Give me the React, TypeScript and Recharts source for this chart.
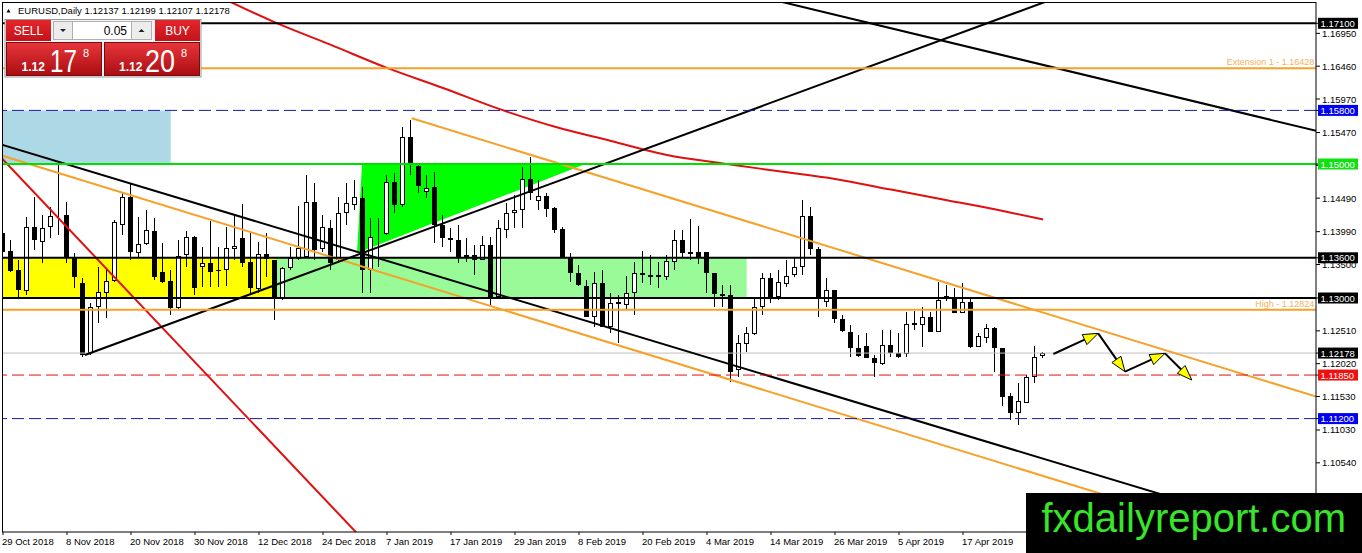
import React from 'react';
import { ComposedChart, Bar, Line, XAxis, YAxis, ReferenceLine, ReferenceArea, ReferenceDot } from 'recharts';

// daily EURUSD bars, 29 Oct 2018 .. 1 May 2019
const opens = [
  1.1397, 1.1370, 1.1342, 1.1310, 1.1406, 1.1384, 1.1406, 1.1424, 1.1424, 1.1361,
  1.1322, 1.1218, 1.1287, 1.1307, 1.1325, 1.1409, 1.1451, 1.1367, 1.1381, 1.1400,
  1.1339, 1.1325, 1.1285, 1.1364, 1.1391, 1.1346, 1.1352, 1.1342, 1.1342, 1.1373,
  1.1390, 1.1354, 1.1313, 1.1366, 1.1357, 1.1300, 1.1345, 1.1358, 1.1361, 1.1443,
  1.1373, 1.1405, 1.1357, 1.1427, 1.1439, 1.1449, 1.1342, 1.1391, 1.1396, 1.1473,
  1.1439, 1.1540, 1.1497, 1.1458, 1.1466, 1.1409, 1.1390, 1.1387, 1.1361, 1.1364,
  1.1357, 1.1379, 1.1301, 1.1402, 1.1427, 1.1431, 1.1478, 1.1445, 1.1452, 1.1434,
  1.1403, 1.1361, 1.1337, 1.1318, 1.1272, 1.1322, 1.1257, 1.1294, 1.1290, 1.1307,
  1.1337, 1.1334, 1.1334, 1.1331, 1.1354, 1.1387, 1.1369, 1.1369, 1.1369, 1.1337,
  1.1306, 1.1304, 1.1193, 1.1231, 1.1246, 1.1287, 1.1330, 1.1301, 1.1321, 1.1334,
  1.1346, 1.1422, 1.1373, 1.1294, 1.1312, 1.1269, 1.1249, 1.1225, 1.1228, 1.1210,
  1.1201, 1.1230, 1.1218, 1.1216, 1.1260, 1.1260, 1.1272, 1.1249, 1.1303, 1.1301,
  1.1278, 1.1294, 1.1227, 1.1240, 1.1255, 1.1225, 1.1154, 1.1128, 1.1143, 1.1182,
  1.12137,
];
const highs = [
  1.1409, 1.1387, 1.1357, 1.1421, 1.1451, 1.1424, 1.1436, 1.1499, 1.1443, 1.1367,
  1.1330, 1.1293, 1.1346, 1.1345, 1.1416, 1.1458, 1.1472, 1.1421, 1.1431, 1.1419,
  1.1382, 1.1342, 1.1387, 1.1400, 1.1393, 1.1376, 1.1415, 1.1376, 1.1406, 1.1422,
  1.1440, 1.1397, 1.1384, 1.1397, 1.1357, 1.1346, 1.1376, 1.1437, 1.1484, 1.1472,
  1.1424, 1.1416, 1.1451, 1.1472, 1.1476, 1.1466, 1.1419, 1.1419, 1.1484, 1.1487,
  1.1555, 1.1566, 1.1499, 1.1484, 1.1488, 1.1424, 1.1405, 1.1409, 1.1390, 1.1379,
  1.1393, 1.1391, 1.1416, 1.1442, 1.1454, 1.1496, 1.1511, 1.1476, 1.1457, 1.1436,
  1.1406, 1.1367, 1.1349, 1.1327, 1.1339, 1.1342, 1.1307, 1.1304, 1.1333, 1.1354,
  1.1370, 1.1364, 1.1354, 1.1364, 1.1402, 1.1402, 1.1418, 1.1407, 1.1369, 1.1337,
  1.1319, 1.1319, 1.1245, 1.1257, 1.1301, 1.1337, 1.1337, 1.1342, 1.1357, 1.1360,
  1.1446, 1.1436, 1.1376, 1.1330, 1.1312, 1.1275, 1.1260, 1.1245, 1.1248, 1.1215,
  1.1252, 1.1252, 1.1248, 1.1279, 1.1281, 1.1287, 1.1279, 1.1324, 1.1319, 1.1315,
  1.1322, 1.1301, 1.1248, 1.1261, 1.1257, 1.1225, 1.1158, 1.1173, 1.1185, 1.1228,
  1.12199,
];
const lows = [
  1.1360, 1.1339, 1.1301, 1.1304, 1.1372, 1.1352, 1.1390, 1.1394, 1.1352, 1.1315,
  1.1212, 1.1215, 1.1263, 1.1270, 1.1324, 1.1394, 1.1357, 1.1361, 1.1379, 1.1327,
  1.1322, 1.1275, 1.1282, 1.1346, 1.1304, 1.1316, 1.1316, 1.1316, 1.1318, 1.1357,
  1.1346, 1.1307, 1.1307, 1.1331, 1.1267, 1.1297, 1.1342, 1.1357, 1.1360, 1.1357,
  1.1369, 1.1342, 1.1352, 1.1409, 1.1431, 1.1307, 1.1307, 1.1346, 1.1394, 1.1427,
  1.1436, 1.1484, 1.1457, 1.1449, 1.1382, 1.1376, 1.1369, 1.1352, 1.1354, 1.1334,
  1.1357, 1.1290, 1.1300, 1.1390, 1.1405, 1.1405, 1.1446, 1.1431, 1.1421, 1.1397,
  1.1360, 1.1324, 1.1318, 1.1272, 1.1257, 1.1257, 1.1248, 1.1233, 1.1282, 1.1275,
  1.1322, 1.1319, 1.1315, 1.1327, 1.1342, 1.1360, 1.1357, 1.1351, 1.1307, 1.1287,
  1.1287, 1.1175, 1.1182, 1.1219, 1.1245, 1.1275, 1.1293, 1.1297, 1.1316, 1.1331,
  1.1334, 1.1364, 1.1272, 1.1287, 1.1263, 1.1249, 1.1212, 1.1212, 1.1210, 1.1182,
  1.1200, 1.1212, 1.1210, 1.1212, 1.1252, 1.1227, 1.1249, 1.1249, 1.1296, 1.1278,
  1.1278, 1.1225, 1.1227, 1.1233, 1.1190, 1.1139, 1.1118, 1.1110, 1.1143, 1.1173,
  1.12107,
];
const closes = [
  1.1369, 1.1340, 1.1312, 1.1406, 1.1387, 1.1405, 1.1422, 1.1425, 1.1361, 1.1331,
  1.1215, 1.1287, 1.1309, 1.1325, 1.1413, 1.1451, 1.1369, 1.1381, 1.1402, 1.1331,
  1.1324, 1.1285, 1.1363, 1.1391, 1.1315, 1.1352, 1.1339, 1.1340, 1.1375, 1.1378,
  1.1352, 1.1315, 1.1366, 1.1358, 1.1301, 1.1345, 1.1360, 1.1375, 1.1443, 1.1372,
  1.1406, 1.1352, 1.1427, 1.1442, 1.1451, 1.1342, 1.1391, 1.1393, 1.1473, 1.1439,
  1.1540, 1.1502, 1.1467, 1.1464, 1.1409, 1.1390, 1.1387, 1.1361, 1.1364, 1.1357,
  1.1379, 1.1301, 1.1405, 1.1427, 1.1431, 1.1478, 1.1457, 1.1452, 1.1433, 1.1402,
  1.1360, 1.1337, 1.1319, 1.1272, 1.1322, 1.1257, 1.1293, 1.1291, 1.1307, 1.1337,
  1.1334, 1.1331, 1.1331, 1.1355, 1.1387, 1.1367, 1.1366, 1.1361, 1.1337, 1.1306,
  1.1303, 1.1190, 1.1233, 1.1248, 1.1287, 1.1330, 1.1301, 1.1324, 1.1333, 1.1346,
  1.1422, 1.1373, 1.1300, 1.1312, 1.1269, 1.1251, 1.1225, 1.1213, 1.1210, 1.1203,
  1.1230, 1.1218, 1.1212, 1.1261, 1.1263, 1.1272, 1.1249, 1.1297, 1.1300, 1.1278,
  1.1294, 1.1227, 1.1243, 1.1255, 1.1225, 1.1152, 1.1128, 1.1146, 1.1182, 1.1212,
  1.12178,
];

// red moving average, read at a few bars
const maIdx = [27, 34, 41, 48, 55, 62, 69, 76, 83, 90, 97, 104, 111, 118, 125, 130];
const maVals = [1.17501, 1.17113, 1.16777, 1.16434, 1.16135, 1.15822, 1.15555, 1.15344, 1.15135, 1.15008, 1.14892, 1.14777, 1.14618, 1.14459, 1.14299, 1.14172];

const dateTickIdx = [0, 8, 16, 24, 32, 40, 48, 56, 64, 72, 80, 88, 96, 104, 112, 120, 128];
const dateLabels = [
  '29 Oct 2018', '8 Nov 2018', '20 Nov 2018', '30 Nov 2018', '12 Dec 2018', '24 Dec 2018',
  '7 Jan 2019', '17 Jan 2019', '29 Jan 2019', '8 Feb 2019', '20 Feb 2019', '4 Mar 2019',
  '14 Mar 2019', '26 Mar 2019', '5 Apr 2019', '17 Apr 2019', '29 Apr 2019',
];

const priceTicks = [1.1695, 1.1646, 1.1597, 1.1547, 1.1498, 1.1449, 1.1399, 1.135, 1.1251, 1.1202, 1.1153, 1.1103, 1.1054, 1.1005];
const boxValues = [1.171, 1.158, 1.15, 1.136, 1.13, 1.12178, 1.1185, 1.112];
const boxColors = ['#000000', '#0000f0', '#10e010', '#000000', '#000000', '#000000', '#f01010', '#0000f0'];

// horizontal levels
const blackLevels = [1.171, 1.136, 1.13];
const orangeLevels = [1.16428, 1.12824];
const orangeLevelText = ['Extension 1 - 1.16428', 'High - 1.12824'];
const blueDashed = [1.158, 1.112];
const redDashed = [1.1185];
const greenLevel = 1.15;
const lastPrice = 1.12178;

// trend lines [bar1, price1, bar2, price2]
const blackTrends = [[-1, 1.15319, 165, 1.09342], [10.25, 1.12149, 132, 1.17495], [96, 1.17458, 165, 1.15471]];
const orangeTrends = [[-1, 1.15157, 165, 1.09058], [51.09, 1.15683, 165, 1.11497]];
const redTrends = [[-1, 1.15192, 45, 1.09394]];

// zones [bar1, bar2, price1, price2]
const blueZone = [-1, 20.96, 1.15, 1.158];
const yellowZone = [-1, 34, 1.13, 1.136];
const paleZone = [34, 92.96, 1.13, 1.136];
const triangleZone = [44.25, 72.8, 1.13672, 1.15];

// projected zigzag
const arrowBars = [131.3, 136.9, 140.25, 145.25, 148.6];
const arrowPrices = [1.12164, 1.12473, 1.119, 1.12174, 1.11776];

const candles = opens.map((open, i) => ({
  i,
  open,
  high: highs[i],
  low: lows[i],
  close: closes[i],
  ma: maIdx.includes(i) ? maVals[maIdx.indexOf(i)] : null,
}));

const FONT = '"Liberation Sans", Arial, sans-serif';
const ORANGE = '#f5a12a';

function Candle(props: any) {
  const { x, y, width, height, payload } = props;
  if (!payload || height == null) return null;
  const { open, close, high, low } = payload;
  const k = height / (high - low);
  const cx = Math.floor(x + width / 2) + 0.5;
  const yo = y + (high - open) * k;
  const yc = y + (high - close) * k;
  const top = Math.round(Math.min(yo, yc));
  const bot = Math.round(Math.max(yo, yc));
  const up = close >= open;
  return (
    <g>
      <line x1={cx} x2={cx} y1={Math.round(y)} y2={Math.round(y + height)} stroke="#000" strokeWidth={1} />
      {up ? (
        <rect x={cx - 2} y={top + 0.5} width={4} height={Math.max(bot - top - 1, 0)} fill="#fff" stroke="#000" strokeWidth={1} />
      ) : (
        <rect x={cx - 2.5} y={top} width={5} height={Math.max(bot - top, 1)} fill="#000" />
      )}
    </g>
  );
}

function DateTick(props: any) {
  const { x, y, payload } = props;
  const k = dateTickIdx.indexOf(payload.value);
  return (
    <text x={x - 1} y={y + 8} fontSize={9.5} fontFamily={FONT} fill="#000" textAnchor="start">
      {dateLabels[k]}
    </text>
  );
}

function PriceTick(props: any) {
  const { x, y, payload } = props;
  const v = payload.value;
  const b = boxValues.indexOf(v);
  if (b >= 0) {
    return (
      <g>
        <rect x={x - 4} y={y - 5.5} width={40} height={11} fill={boxColors[b]} />
        <text x={x - 1.5} y={y + 3.5} fontSize={9.5} fontFamily={FONT} fill="#fff">{v.toFixed(5)}</text>
      </g>
    );
  }
  return (
    <text x={x} y={y + 3.5} fontSize={9.5} fontFamily={FONT} fill="#000">{v.toFixed(5)}</text>
  );
}

function Triangle(props: any) {
  const { x, y, width, height } = props;
  return <polygon points={`${x + 5},${y} ${x + width},${y} ${x},${y + height}`} fill="#00ff00" />;
}

function Arrow(props: any) {
  const { x1, y1, x2, y2 } = props;
  const dx = x2 - x1;
  const dy = y2 - y1;
  const len = Math.hypot(dx, dy) || 1;
  const ux = dx / len;
  const uy = dy / len;
  const bx = x2 - ux * 15;
  const by = y2 - uy * 15;
  const pts = `${x2},${y2} ${bx - uy * 5.5},${by + ux * 5.5} ${bx + uy * 5.5},${by - ux * 5.5}`;
  return (
    <g>
      <line x1={x1} y1={y1} x2={bx} y2={by} stroke="#000" strokeWidth={2} />
      <polygon points={pts} fill="#ffff00" stroke="#000" strokeWidth={1} />
    </g>
  );
}

function levelLabel(text: string) {
  return (p: any) => (
    <text x={p.cx} y={p.cy - 3} textAnchor="end" fontSize={9} fontFamily={FONT} fill="#f2b35a">{text}</text>
  );
}

function TradePanel() {
  return (
    <svg style={{ position: 'absolute', left: 0, top: 0 }} width={240} height={80}>
      <defs>
        <linearGradient id="redBig" x1="0" y1="0" x2="0" y2="1">
          <stop offset="0" stopColor="#e8363b" />
          <stop offset="1" stopColor="#a90d12" />
        </linearGradient>
        <linearGradient id="redSmall" x1="0" y1="0" x2="0" y2="1">
          <stop offset="0" stopColor="#e3262c" />
          <stop offset="1" stopColor="#c41219" />
        </linearGradient>
      </defs>
      <polygon points="6.5,12.5 10.5,12.5 8.5,9" fill="#000" />
      <text x={18} y={14} fontSize={9.5} fontFamily={FONT} fill="#000">EURUSD,Daily 1.12137 1.12199 1.12107 1.12178</text>
      <rect x={5} y={19.5} width={196} height={57.5} fill="#f4f4f4" stroke="#9a9a9a" />
      <rect x={6} y={20} width={45} height={21} fill="url(#redSmall)" />
      <text x={28.5} y={35} textAnchor="middle" fontSize={12} fontFamily={FONT} fill="#fff">SELL</text>
      <rect x={53.5} y={21.5} width={19} height={18} fill="#ececec" stroke="#b0b0b0" />
      <polygon points="60,29 66,29 63,32" fill="#222" />
      <rect x={72.5} y={21.5} width={59} height={18} fill="#fff" stroke="#b0b0b0" />
      <text x={127} y={35} textAnchor="end" fontSize={12} fontFamily={FONT} fill="#000">0.05</text>
      <rect x={131.5} y={21.5} width={20} height={18} fill="#ececec" stroke="#b0b0b0" />
      <polygon points="138.5,32 144.5,32 141.5,29" fill="#222" />
      <rect x={155} y={20} width={45} height={21} fill="url(#redSmall)" />
      <text x={177.5} y={35} textAnchor="middle" fontSize={12} fontFamily={FONT} fill="#fff">BUY</text>
      <rect x={6.5} y={42.5} width={95} height={33} fill="url(#redBig)" stroke="#7a0a0d" />
      <rect x={104.5} y={42.5} width={95} height={33} fill="url(#redBig)" stroke="#7a0a0d" />
      <text x={21.5} y={71} fontSize={12} fontWeight="bold" fontFamily={FONT} fill="#fff">1.12</text>
      <text x={50} y={72} fontSize={32} textLength={27} lengthAdjust="spacingAndGlyphs" fontFamily={FONT} fill="#fff">17</text>
      <text x={83} y={57} fontSize={11} fontFamily={FONT} fill="#fff">8</text>
      <text x={119} y={71} fontSize={12} fontWeight="bold" fontFamily={FONT} fill="#fff">1.12</text>
      <text x={145} y={72} fontSize={32} textLength={30} lengthAdjust="spacingAndGlyphs" fontFamily={FONT} fill="#fff">20</text>
      <text x={181} y={57} fontSize={11} fontFamily={FONT} fill="#fff">8</text>
    </svg>
  );
}

export default function App() {
  return (
    <div style={{ position: 'absolute', left: 0, top: 0, width: 1362, height: 553, background: '#fff', overflow: 'hidden' }}>
      <ComposedChart width={1362} height={553} data={candles} margin={{ top: 2, right: 0, bottom: 0, left: 2 }}>
        <XAxis
          type="number" dataKey="i" domain={[-0.125, 164.125]} allowDataOverflow
          ticks={dateTickIdx} interval={0} tick={<DateTick />} tickSize={3}
          height={21} axisLine={{ stroke: '#000' }} tickLine={{ stroke: '#000' }}
        />
        <YAxis
          orientation="right" type="number" domain={[1.095075, 1.174179]} allowDataOverflow
          ticks={[...priceTicks, ...boxValues]} interval={0} tick={<PriceTick />} tickSize={4}
          width={46} axisLine={{ stroke: '#000' }} tickLine={{ stroke: '#000' }}
        />

        <ReferenceArea x1={blueZone[0]} x2={blueZone[1]} y1={blueZone[2]} y2={blueZone[3]} fill="#add8e6" fillOpacity={1} ifOverflow="hidden" />
        <ReferenceArea x1={yellowZone[0]} x2={yellowZone[1]} y1={yellowZone[2]} y2={yellowZone[3]} fill="#ffff00" fillOpacity={1} ifOverflow="hidden" />
        <ReferenceArea x1={paleZone[0]} x2={paleZone[1]} y1={paleZone[2]} y2={paleZone[3]} fill="#98fb98" fillOpacity={1} ifOverflow="hidden" />
        <ReferenceArea x1={triangleZone[0]} x2={triangleZone[1]} y1={triangleZone[2]} y2={triangleZone[3]} shape={Triangle} ifOverflow="hidden" />

        <ReferenceLine y={lastPrice} stroke="#c0c0c0" strokeWidth={1} />

        <Bar dataKey={(d: any) => [d.low, d.high]} barSize={5} shape={Candle} isAnimationActive={false} />

        <Line dataKey="ma" type="monotone" stroke="#e01010" strokeWidth={2} dot={false} connectNulls isAnimationActive={false} />

        {redTrends.map((t, k) => (
          <ReferenceLine key={'r' + k} segment={[{ x: t[0], y: t[1] }, { x: t[2], y: t[3] }]} stroke="#e01010" strokeWidth={2} ifOverflow="hidden" />
        ))}
        {orangeTrends.map((t, k) => (
          <ReferenceLine key={'o' + k} segment={[{ x: t[0], y: t[1] }, { x: t[2], y: t[3] }]} stroke={ORANGE} strokeWidth={2} ifOverflow="hidden" />
        ))}
        {blackTrends.map((t, k) => (
          <ReferenceLine key={'b' + k} segment={[{ x: t[0], y: t[1] }, { x: t[2], y: t[3] }]} stroke="#000" strokeWidth={2} ifOverflow="hidden" />
        ))}

        {blackLevels.map(v => <ReferenceLine key={'bl' + v} y={v} stroke="#000" strokeWidth={2} />)}
        {orangeLevels.map(v => <ReferenceLine key={'ol' + v} y={v} stroke={ORANGE} strokeWidth={2} />)}
        {blueDashed.map(v => <ReferenceLine key={'bd' + v} y={v} stroke="#1a1aa8" strokeWidth={1} strokeDasharray="12 5" />)}
        {redDashed.map(v => <ReferenceLine key={'rd' + v} y={v} stroke="#e01010" strokeWidth={1} strokeDasharray="12 5" />)}
        <ReferenceLine y={greenLevel} stroke="#00e000" strokeWidth={2} />

        {orangeLevels.map((v, k) => (
          <ReferenceDot key={'ot' + v} x={163.9} y={v} r={0} shape={levelLabel(orangeLevelText[k])} />
        ))}

        {arrowBars.slice(1).map((b, k) => (
          <ReferenceLine
            key={'a' + k}
            segment={[{ x: arrowBars[k], y: arrowPrices[k] }, { x: b, y: arrowPrices[k + 1] }]}
            shape={Arrow}
            ifOverflow="hidden"
          />
        ))}
      </ComposedChart>

      <div style={{ position: 'absolute', left: 2, top: 2, width: 1314, height: 530, borderLeft: '1px solid #000', borderTop: '1px solid #000', boxSizing: 'border-box', pointerEvents: 'none' }} />

      <TradePanel />

      <svg style={{ position: 'absolute', left: 1026, top: 493 }} width={336} height={60}>
        <rect width={336} height={60} fill="#000" />
        <text x={15.5} y={39} fontSize={40} fontFamily={FONT} fill="#39e52b">fxdailyreport.com</text>
      </svg>
    </div>
  );
}
